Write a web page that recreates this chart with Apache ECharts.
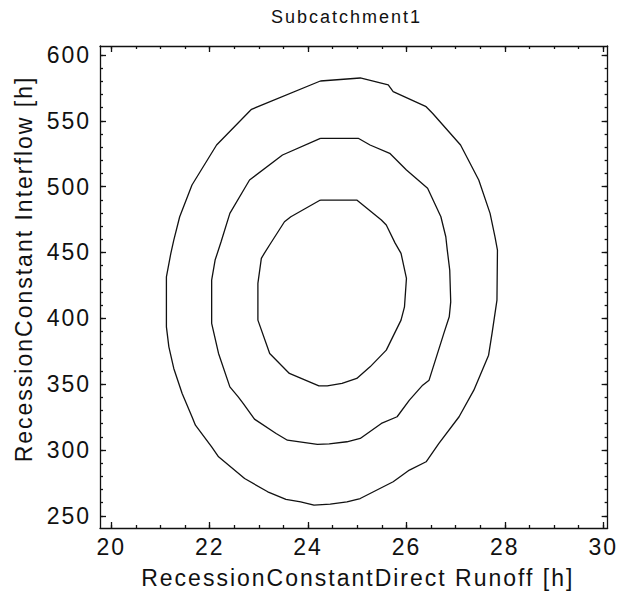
<!DOCTYPE html>
<html>
<head>
<meta charset="utf-8">
<script src="https://cdn.jsdelivr.net/npm/echarts@6/dist/echarts.min.js"></script>
<style>
  html, body { margin: 0; padding: 0; background: #fff; }
  #chart { width: 619px; height: 594px; }
  #chart text { letter-spacing: 2px; }
</style>
</head>
<body>
<div id="chart"></div>
<script>
// ---- data ----
const chartTitle = 'Subcatchment1';
const xAxisName = 'RecessionConstantDirect Runoff [h]';
const yAxisName = 'RecessionConstant Interflow [h]';

const xMajorTicks = [20, 22, 24, 26, 28, 30];
const yMajorTicks = [250, 300, 350, 400, 450, 500, 550, 600];

// contour lines: [RecessionConstantDirectRunoff, RecessionConstantInterflow]
const outerContour = [
  [24.25,580.2],[25.06,582.5],[25.63,577.2],[25.73,572.1],[26.40,560.7],[26.53,555.7],
  [27.10,531.6],[27.47,505.0],[27.70,479.7],[27.80,461.9],[27.85,451.8],[27.84,413.8],
  [27.74,388.5],[27.67,372.0],[27.37,345.4],[27.07,325.2],[26.66,304.9],[26.40,291.0],
  [26.06,284.7],[25.73,275.8],[25.06,263.1],[24.79,260.6],[24.45,258.8],[24.12,258.1],
  [23.85,260.6],[23.55,262.4],[23.18,268.2],[22.71,278.3],[22.18,294.8],[22.04,302.4],
  [21.71,318.8],[21.64,325.2],[21.44,342.9],[21.27,361.9],[21.17,378.3],[21.12,393.5],
  [21.12,431.5],[21.21,449.3],[21.27,459.4],[21.39,477.1],[21.64,501.2],[22.14,531.6],
  [22.85,558.7],[24.25,580.2]
];
const middleContour = [
  [24.25,536.7],[25.02,536.7],[25.26,531.6],[25.66,525.3],[26.00,512.6],[26.43,498.7],
  [26.70,477.1],[26.80,461.9],[26.83,451.8],[26.88,436.6],[26.90,412.5],[26.87,401.1],
  [26.76,388.5],[26.46,353.0],[26.33,349.2],[26.06,337.8],[25.81,325.2],[25.49,320.1],
  [25.06,308.7],[24.79,306.2],[24.43,304.6],[24.19,304.2],[23.58,307.4],[23.35,312.5],
  [22.91,323.4],[22.68,335.3],[22.58,340.3],[22.41,347.9],[22.18,373.3],[22.04,396.1],
  [22.04,429.0],[22.11,444.2],[22.23,457.9],[22.41,479.7],[22.75,501.2],[22.81,505.0],
  [23.48,524.0],[24.25,536.7]
];
const innerContour = [
  [24.25,489.8],[24.99,489.8],[25.49,474.6],[25.59,470.8],[25.77,457.1],[25.89,449.3],
  [26.00,430.3],[25.96,408.7],[25.89,398.6],[25.59,375.8],[25.26,363.1],[24.99,354.3],
  [24.69,350.5],[24.39,348.7],[24.22,348.7],[23.62,358.1],[23.22,373.3],[22.98,398.6],
  [22.98,426.5],[23.05,445.5],[23.11,449.3],[23.23,456.4],[23.52,473.3],[23.65,477.1],
  [24.25,489.8]
];

// ---- axis settings ----
const xMin = 19.77, xMax = 30.09;
const yMin = 240.7, yMax = 606.8;
const xMinorTicks = [];
for (let v = 20; v <= 30.001; v += 0.5) xMinorTicks.push(+v.toFixed(1));
const yMinorTicks = [];
for (let v = 250; v <= 600; v += 10) yMinorTicks.push(v);

const ink = '#111';
const fontFamily = '"Liberation Sans", Arial, sans-serif';

function xAx(pos, ticks, len, labels, line) {
  return {
    type: 'value', position: pos, min: xMin, max: xMax,
    axisLine: { show: line, onZero: false, lineStyle: { color: ink, width: 1.3 } },
    axisTick: { show: true, inside: true, length: len, customValues: ticks, lineStyle: { color: ink, width: 1.3 } },
    axisLabel: labels ? { show: true, customValues: xMajorTicks, margin: 7, color: ink, fontSize: 23, fontFamily: fontFamily } : { show: false },
    splitLine: { show: false },
    name: labels ? xAxisName : '',
    nameLocation: 'middle', nameGap: 38,
    nameTextStyle: { color: ink, fontSize: 23, fontFamily: fontFamily, padding: [0, 0, 0, 8] }
  };
}
function yAx(pos, ticks, len, labels, line) {
  return {
    type: 'value', position: pos, min: yMin, max: yMax,
    axisLine: { show: line, onZero: false, lineStyle: { color: ink, width: 1.3 } },
    axisTick: { show: true, inside: true, length: len, customValues: ticks, lineStyle: { color: ink, width: 1.3 } },
    axisLabel: labels ? { show: true, customValues: yMajorTicks, margin: 9, color: ink, fontSize: 23, fontFamily: fontFamily } : { show: false },
    splitLine: { show: false },
    name: labels ? yAxisName : '',
    nameLocation: 'middle', nameGap: 65,
    nameTextStyle: { color: ink, fontSize: 23, fontFamily: fontFamily, padding: [0, 0, 0, 36] }
  };
}

const chart = echarts.init(document.getElementById('chart'), null, { renderer: 'svg' });
const lineStyle = { color: ink, width: 1.3 };
chart.setOption({
  animation: false,
  backgroundColor: '#fff',
  title: {
    text: chartTitle, left: 266, top: 3,
    textStyle: { color: ink, fontSize: 18, fontWeight: 'normal', fontFamily: fontFamily }
  },
  grid: { left: 100, right: 5, top: 46, bottom: 66 },
  xAxis: [
    xAx('bottom', xMajorTicks, 6, true, true),
    xAx('bottom', xMinorTicks, 3, false, false),
    xAx('top', xMajorTicks, 6, false, true),
    xAx('top', xMinorTicks, 3, false, false)
  ],
  yAxis: [
    yAx('left', yMajorTicks, 6, true, true),
    yAx('left', yMinorTicks, 3, false, false),
    yAx('right', yMajorTicks, 6, false, true),
    yAx('right', yMinorTicks, 3, false, false)
  ],
  series: [
    { type: 'line', data: outerContour, showSymbol: false, lineStyle: lineStyle, silent: true },
    { type: 'line', data: middleContour, showSymbol: false, lineStyle: lineStyle, silent: true },
    { type: 'line', data: innerContour, showSymbol: false, lineStyle: lineStyle, silent: true }
  ]
});
</script>
</body>
</html>
